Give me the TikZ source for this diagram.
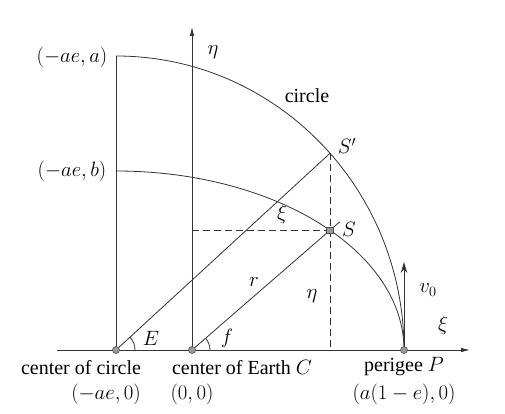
\documentclass[tikz,border=0pt]{standalone}
\usepackage{fontspec}
\setmainfont{Liberation Serif}
\usetikzlibrary{arrows.meta,calc}
\begin{document}
\begin{tikzpicture}[x=1pt,y=1pt,
  lbl/.style={inner sep=0pt,font=\fontsize{20}{24}\selectfont},
  ln/.style={draw=black!80,line width=0.8pt},
  dsh/.style={draw=black!80,line width=0.8pt,dash pattern=on 7pt off 4pt},
  dotmark/.style={circle,draw=black!70,fill=black!40,minimum size=7pt,inner sep=0pt,line width=0.6pt},
  sqmark/.style={rectangle,draw=black!70,fill=black!40,minimum size=6.5pt,inner sep=0pt,line width=0.6pt}]
\useasboundingbox (0,0) rectangle (505,413);
% key points
\coordinate (O) at (116,63);
\coordinate (C) at (192,63);
\coordinate (P) at (404,63);
\coordinate (Atop) at (116,357);
\coordinate (Btop) at (116,242);
\coordinate (Sp) at ($(O)+(42:288 and 294)$);
\coordinate (S) at ($(O)+(42:288 and 179)$);
\coordinate (Xl) at (57,63);
\coordinate (Xr) at (470,63);
\coordinate (Yt) at (192,386);
\coordinate (Vt) at (404,151);
\coordinate (Spb) at ($(Sp|-O)$);
\coordinate (Sh) at ($(C|-S)$);
\coordinate (Sx) at ($(C)!1.07!(S)$);
% axes
\draw[ln,-{Latex[length=9pt,width=4.5pt]}] (Xl) -- (Xr);
\draw[ln,-{Latex[length=9pt,width=4.5pt]}] (C) -- (Yt);
% vertical from circle centre
\draw[ln] (O) -- (Atop);
% circle and ellipse
\draw[ln] (Atop) arc[start angle=90,end angle=0,x radius=288pt,y radius=294pt];
\draw[ln] (Btop) arc[start angle=90,end angle=0,x radius=288pt,y radius=179pt];
% radial lines
\draw[ln] (O) -- (Sp);
\draw[ln] (C) -- (Sx);
% dashed
\draw[dsh] (Sh) -- (S);
\draw[dsh] (Sp) -- (Spb);
% angle arcs
\draw[ln] ($(O)+(19,0)$) arc[start angle=0,end angle=42.6,radius=19pt];
\draw[ln] ($(C)+(18,0)$) arc[start angle=0,end angle=41,radius=18pt];
% velocity
\draw[ln,line width=1pt,-{Stealth[length=11pt,width=6.5pt]}] (P) -- (Vt);
% markers
\node[dotmark] (Om) at (O) {};
\node[dotmark] (Cm) at (C) {};
\node[dotmark] (Pm) at (P) {};
\node[sqmark] (Sm) at (S) {};
% labels
\node[lbl] (la) at (72,356) {$(-ae,a)$};
\node[lbl] (lb) at (72,242) {$(-ae,b)$};
\node[lbl] (leta) at (213,361) {$\eta$};
\node[lbl] (lcirc) at (307,317) {circle};
\node[lbl] (lSp) at (347,267) {$S'$};
\node[lbl] (lxi) at (282,199) {$\xi$};
\node[lbl] (lS) at (349,184) {$S$};
\node[lbl] (lr) at (254,131) {$r$};
\node[lbl] (leta2) at (312,117) {$\eta$};
\node[lbl] (lv) at (428,123) {$v_0$};
\node[lbl] (lxi2) at (443,88) {$\xi$};
\node[lbl] (lE) at (151,75) {$E$};
\node[lbl] (lf) at (227,75) {$f$};
\node[lbl] (lcc) at (81,45) {center of circle};
\node[lbl] (lcc2) at (106,19) {$(-ae,0)$};
\node[lbl] (lce) at (242,45) {center of Earth $C$};
\node[lbl] (lce2) at (192,19) {$(0,0)$};
\node[lbl] (lp) at (404,46) {perigee $P$};
\node[lbl] (lp2) at (404,19) {$(a(1-e),0)$};
\end{tikzpicture}
\end{document}
